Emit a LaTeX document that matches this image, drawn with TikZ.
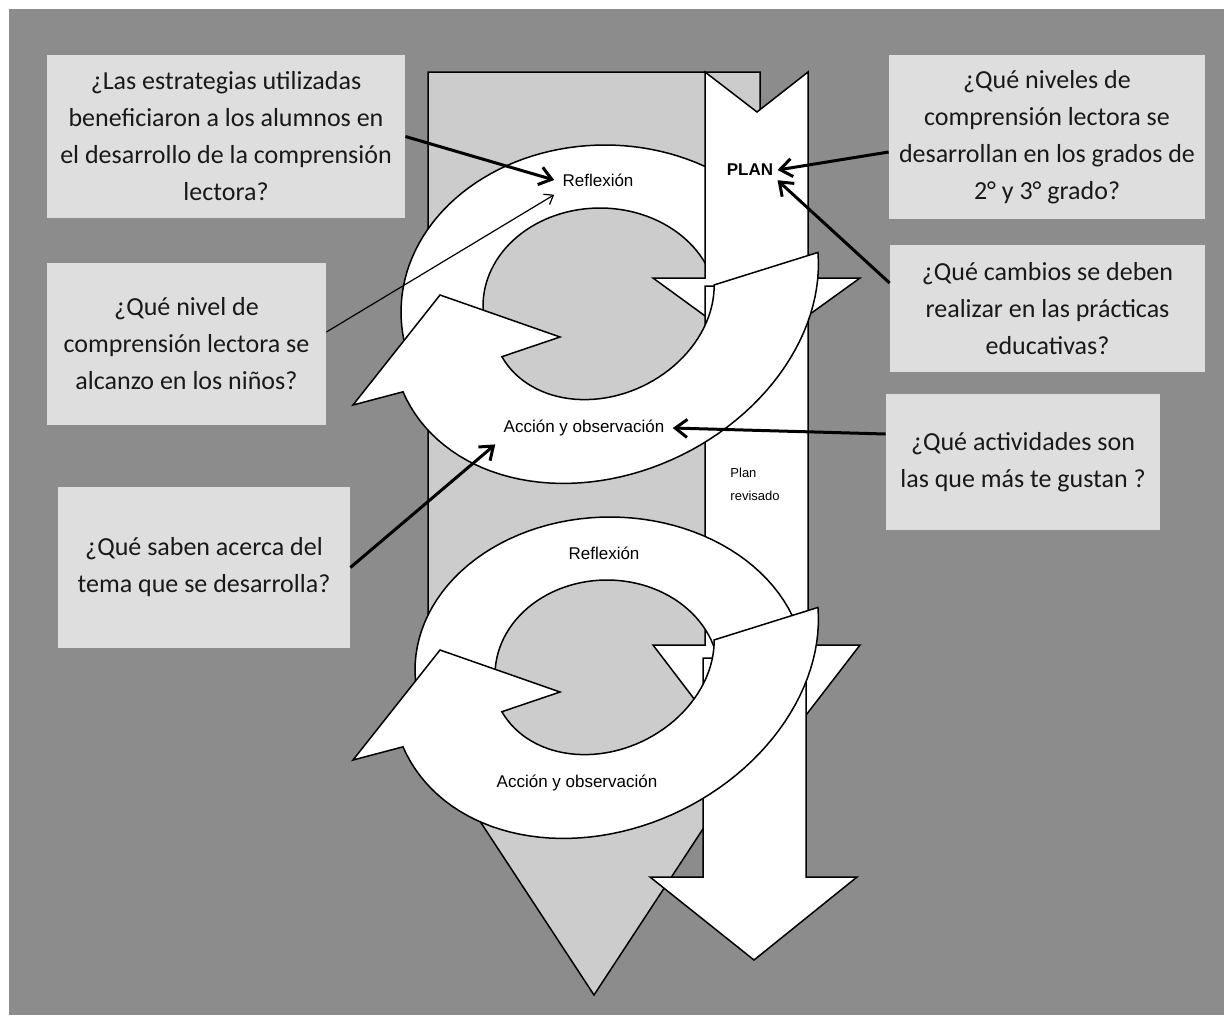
\documentclass[tikz,border=0pt]{standalone}
\usepackage{fontspec}
\setmainfont{Carlito}
\newfontfamily\rotulo{Liberation Sans}
\usetikzlibrary{arrows.meta}
\definecolor{fondo}{gray}{0.55}
\definecolor{gris}{gray}{0.80}
\definecolor{caja}{gray}{0.87}

\begin{document}
\begin{tikzpicture}[x=0.5pt,y=-0.5pt]
            \tikzset{
                pregunta/.style={fill=caja, inner sep=0pt, align=center, text=black!90,
                    font=\fontsize{13}{18.5}\selectfont},
                forma/.style={draw=black, line width=0.75pt, fill=white},
                etiqueta/.style={font=\rotulo\fontsize{8.5}{10}\selectfont, inner sep=4pt},
                flecha/.style={line width=1.5pt, -{Straight Barb[length=6pt,width=9pt]}},}
            % banda inferior de cada ciclo (elipse girada)
            \def\bandainf{plot[domain=17:182, samples=60, variable=\t] ({605+199.5*cos(\t)+75.8*sin(\t)}, {300-97.3*cos(\t)+155.5*sin(\t)}) -- (353,405) -- (440,295) -- (560,337) -- plot[domain=177:21, samples=50, variable=\t] ({603+103.4*cos(\t)+40.8*sin(\t)}, {302-50.4*cos(\t)+83.6*sin(\t)}) -- cycle}
            \useasboundingbox (0,0) rectangle (1224,1017);
            \fill[white] (0,0) rectangle (1224,1017);
            \fill[fondo] (9,9) rectangle (1224,1015);
            % preguntas
            \node[pregunta, minimum width=179pt, minimum height=81.5pt] (p1) at (226,136.5)
                {¿Las estrategias utilizadas\\beneficiaron a los alumnos en\\el desarrollo de la comprensión\\lectora?};
            \node[pregunta, minimum width=139.5pt, minimum height=81pt] (p2) at (186.5,344)
                {¿Qué nivel de\\comprensión lectora se\\alcanzo en los niños?};
            \node[pregunta, minimum width=146pt, minimum height=80.5pt] (p3) at (204,567.5)
                {¿Qué saben acerca del\\tema que se desarrolla?};
            \node[pregunta, minimum width=158pt, minimum height=82pt] (p4) at (1047,137)
                {¿Qué niveles de\\comprensión lectora se\\desarrollan en los grados de\\2° y 3° grado?};
            \node[pregunta, minimum width=157.5pt, minimum height=63.5pt] (p5) at (1047.5,308.5)
                {¿Qué cambios se deben\\realizar en las prácticas\\educativas?};
            \node[pregunta, minimum width=137pt, minimum height=68pt] (p6) at (1023,462)
                {¿Qué actividades son\\las que más te gustan ?};
            % flecha gris
            \draw[forma, fill=gris] (428,72) -- (760,72) -- (760,742) -- (594,995) -- (428,742) -- cycle;
            % primer ciclo
            \draw[forma] plot[domain=165:320, samples=60, variable=\t] ({605+204*cos(\t)}, {312+167*sin(\t)}) -- plot[domain=340:170, samples=60, variable=\t] ({600+117*cos(\t)}, {306+98*sin(\t)}) -- cycle;
            \draw[forma] (705,72) -- (757,112) -- (808,72) -- (808,278) -- (860,278) -- (756,353) -- (653,278) -- (705,278) -- cycle;
            \draw[forma] (705,286) -- (808,286) -- (808,645) -- (860,645) -- (756,780) -- (653,645) -- (705,645) -- cycle;
            \draw[forma] \bandainf;
            % segundo ciclo
            \draw[forma] plot[domain=170:355, samples=60, variable=\t] ({610+195*cos(\t)}, {670+153*sin(\t)}) -- plot[domain=360:175, samples=60, variable=\t] ({607+112*cos(\t)}, {675+95*sin(\t)}) -- cycle;
            \draw[forma] (703,658) -- (806,658) -- (806,877) -- (857,877) -- (754,960) -- (650,877) -- (703,877) -- cycle;
            \begin{scope}[shift={(0,355)}]
                \draw[forma] \bandainf;
            \end{scope}
            % etiquetas
            \node[etiqueta] (reflexion1) at (598,180) {Reflexión};
            \node[etiqueta, font=\rotulo\bfseries\fontsize{8.5}{10}\selectfont, inner sep=2pt] (plan) at (750,170) {PLAN};
            \node[etiqueta] (accion1) at (584,428) {Acción y observación};
            \node[etiqueta, font=\rotulo\fontsize{6.5}{11.5}\selectfont, align=left] (revisado) at (755,484) {Plan\\revisado};
            \node[etiqueta] (reflexion2) at (604,553) {Reflexión};
            \node[etiqueta] (accion2) at (577,783) {Acción y observación};
            % conectores
            \draw[flecha] (p1.east) -- (reflexion1.west);
            \draw[line width=0.6pt, -{Straight Barb[length=4pt,width=6pt]}] ([yshift=6pt]p2.east) -- (reflexion1.south west);
            \draw[flecha] (p3.east) -- (accion1.south west);
            \draw[flecha] ([yshift=-7.5pt]p4.west) -- (plan.east);
            \draw[flecha] ([yshift=12.75pt]p5.west) -- (plan.south east);
            \draw[flecha] ([yshift=14pt]p6.west) -- (accion1.east);
        \end{tikzpicture}
\end{document}
